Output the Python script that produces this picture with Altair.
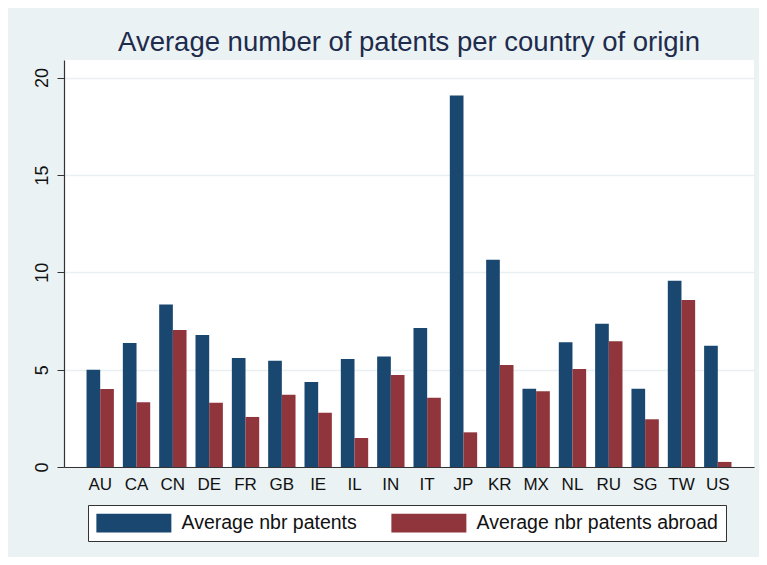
import altair as alt
import pandas as pd

countries = ["AU", "CA", "CN", "DE", "FR", "GB", "IE", "IL", "IN", "IT",
             "JP", "KR", "MX", "NL", "RU", "SG", "TW", "US"]
avg_patents = [5.0, 6.37, 8.34, 6.78, 5.6, 5.46, 4.36, 5.55, 5.68, 7.14,
               19.08, 10.64, 4.02, 6.4, 7.36, 4.02, 9.57, 6.23]
avg_abroad = [4.0, 3.32, 7.03, 3.3, 2.57, 3.71, 2.79, 1.49, 4.72, 3.55,
              1.78, 5.24, 3.89, 5.03, 6.46, 2.45, 8.58, 0.26]
series_names = ["Average nbr patents", "Average nbr patents abroad"]
series_colors = ["#1a476f", "#90353b"]
y_ticks = [0, 5, 10, 15, 20]

rows = []
for c, a, b in zip(countries, avg_patents, avg_abroad):
    rows.append({"country": c, "series": series_names[0], "value": a})
    rows.append({"country": c, "series": series_names[1], "value": b})
df = pd.DataFrame(rows)

FONT = "Liberation Sans, Arial, sans-serif"
# wide swatch: starts at the entry's left edge, 8 units wide, 2 units tall
rect_shape = "M-1,-1L7,-1L7,1L-1,1Z"

chart = alt.Chart(df).mark_bar().encode(
    x=alt.X("country:N", sort=countries, title=None,
            scale=alt.Scale(paddingInner=0.247, paddingOuter=0.62),
            axis=alt.Axis(labelAngle=0, ticks=False, labelPadding=9,
                          labelFontSize=17, labelColor="#111111",
                          domainColor="#333333", domainWidth=1.2, grid=False)),
    xOffset=alt.XOffset("series:N", sort=series_names),
    y=alt.Y("value:Q", title=None,
            scale=alt.Scale(domain=[0, 20.9], nice=False, zero=True),
            axis=alt.Axis(values=y_ticks, labelAngle=270, labelAlign="center",
                          labelBaseline="alphabetic", labelPadding=10, tickSize=7,
                          labelFontSize=18, labelColor="#111111",
                          tickColor="#333333", domainColor="#333333", domainWidth=1.2,
                          grid=True, gridColor="#e8f0f1", gridWidth=1.5)),
    color=alt.Color("series:N", sort=series_names,
                    scale=alt.Scale(domain=series_names, range=series_colors),
                    legend=alt.Legend(title=None, orient="none", legendX=24, legendY=445,
                                      direction="horizontal", columns=2,
                                      symbolType=rect_shape, symbolSize=351.5,
                                      symbolStrokeWidth=0, symbolOpacity=1,
                                      labelFontSize=19.5, labelColor="#111111",
                                      labelOffset=66, columnPadding=34,
                                      labelLimit=400,
                                      padding=8, strokeColor="#333333",
                                      fillColor="white")),
).properties(
    width=690,
    height=407,
    title=alt.TitleParams("Average number of patents per country of origin",
                          fontSize=27.5, font=FONT, fontWeight="normal",
                          color="#1e2b4d", anchor="middle", baseline="alphabetic",
                          offset=-18),
    autosize=alt.AutoSizeParams(type="none"),
    padding={"left": 56, "top": 52, "right": 5, "bottom": 90},
    background="#eaf2f3",
).configure(font=FONT).configure_view(fill="white", stroke=None)

chart.save("out.html", embed_options={"renderer": "svg", "actions": False})
